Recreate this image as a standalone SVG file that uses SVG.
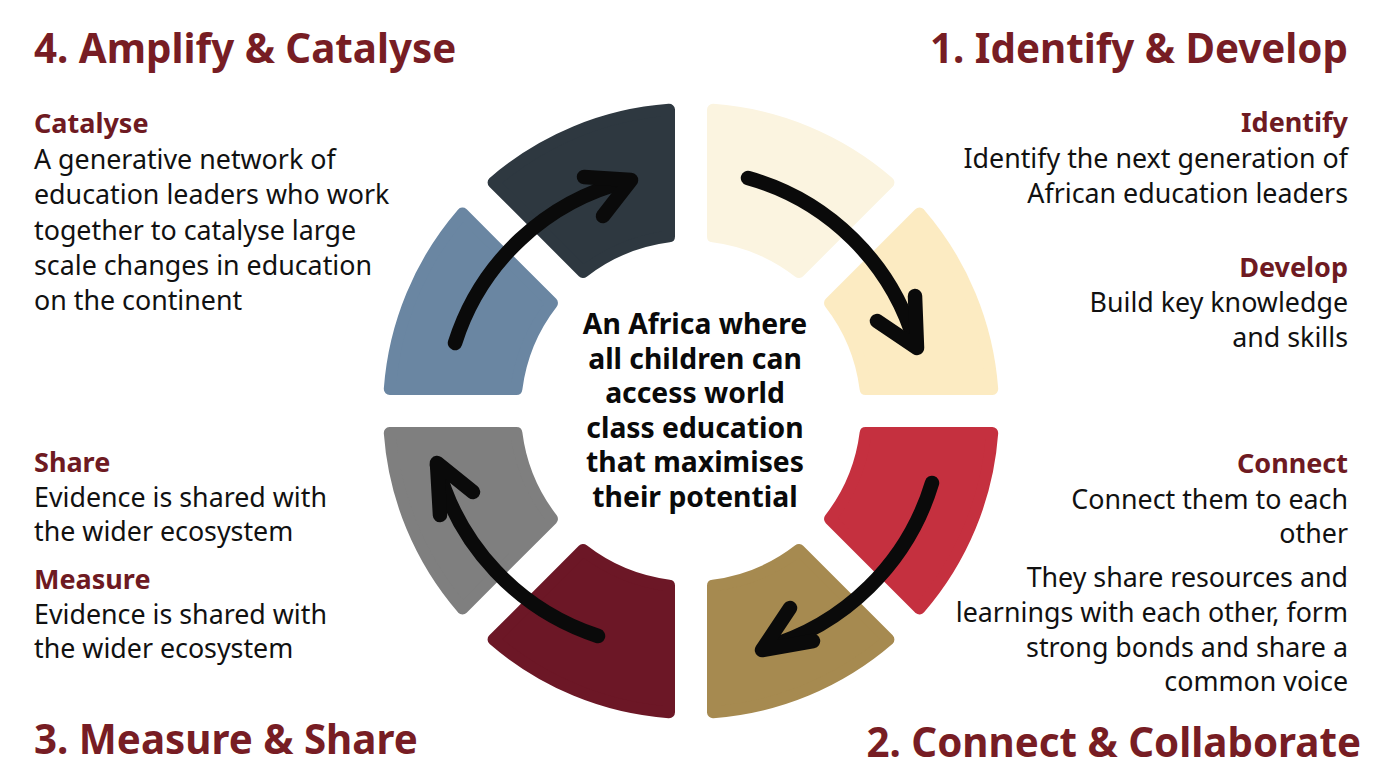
<svg xmlns="http://www.w3.org/2000/svg" width="1376" height="768" viewBox="0 0 1376 768">
<style>
.seg{stroke-width:12;stroke-linejoin:round}
.s1{fill:#FBF4E0;stroke:#FBF4E0}
.s2{fill:#FCEBC2;stroke:#FCEBC2}
.s3{fill:#C5303F;stroke:#C5303F}
.s4{fill:#A68A50;stroke:#A68A50}
.s5{fill:#6C1726;stroke:#6C1726}
.s6{fill:#7F7F7F;stroke:#7F7F7F}
.s7{fill:#6A86A2;stroke:#6A86A2}
.s8{fill:#2E3840;stroke:#2E3840}
.arr{fill:none;stroke:#0a0a0a;stroke-width:14.5;stroke-linecap:round;stroke-linejoin:round}
text{font-family:"Noto Sans","Open Sans","Liberation Sans",sans-serif}
.title{font-size:40.3px;font-weight:700;fill:#771D24}
.sub{font-size:27px;font-weight:700;fill:#6E1A22}
.body{font-size:26.8px;fill:#111111}
.center{font-size:28.3px;font-weight:700;fill:#0a0a0a;text-anchor:middle}
.r{text-anchor:end}
</style>
<rect width="1376" height="768" fill="#ffffff"/>
<g id="ring">
<g id="seg-cream"><path class="seg s1" d="M 713 109.8 A 302 302 0 0 1 888.42 182.46 L 798.92 271.97 A 176 176 0 0 0 713 236.38 Z"/></g>
<g id="seg-yellow"><path class="seg s2" d="M 919.54 213.58 A 302 302 0 0 1 992.2 389 L 865.62 389 A 176 176 0 0 0 830.03 303.08 Z"/></g>
<g id="seg-red"><path class="seg s3" d="M 992.2 433 A 302 302 0 0 1 919.54 608.42 L 830.03 518.92 A 176 176 0 0 0 865.62 433 Z"/></g>
<g id="seg-gold"><path class="seg s4" d="M 888.42 639.54 A 302 302 0 0 1 713 712.2 L 713 585.62 A 176 176 0 0 0 798.92 550.03 Z"/></g>
<g id="seg-darkred"><path class="seg s5" d="M 669 712.2 A 302 302 0 0 1 493.58 639.54 L 583.08 550.03 A 176 176 0 0 0 669 585.62 Z"/></g>
<g id="seg-gray"><path class="seg s6" d="M 462.46 608.42 A 302 302 0 0 1 389.8 433 L 516.38 433 A 176 176 0 0 0 551.97 518.92 Z"/></g>
<g id="seg-blue"><path class="seg s7" d="M 389.8 389 A 302 302 0 0 1 462.46 213.58 L 551.97 303.08 A 176 176 0 0 0 516.38 389 Z"/></g>
<g id="seg-dark"><path class="seg s8" d="M 493.58 182.46 A 302 302 0 0 1 669 109.8 L 669 236.38 A 176 176 0 0 0 583.08 271.97 Z"/></g>
</g>
<g id="connectors">
<path class="arr" d="M 455 343 A 242 242 0 0 1 628 181"/>
<path class="arr" d="M 584 177 L 631 180 L 603 216"/>
<path class="arr" d="M 748 178 A 242 242 0 0 1 915 343"/>
<path class="arr" d="M 877 321 L 917 348 L 915 296"/>
<path class="arr" d="M 932 483 A 245 245 0 0 1 764 648"/>
<path class="arr" d="M 790 608 L 762 650 L 813 641"/>
<path class="arr" d="M 598 636 A 245 245 0 0 1 437 465"/>
<path class="arr" d="M 473 492 L 437 463 L 440 515"/>
</g>
<g id="center">
<text class="center" x="695" y="334"><tspan x="695" y="334">An Africa where</tspan><tspan x="695" y="368.6">all children can</tspan><tspan x="695" y="403.2">access world</tspan><tspan x="695" y="437.8">class education</tspan><tspan x="695" y="472.4">that maximises</tspan><tspan x="695" y="507">their potential</tspan></text>
</g>
<g id="stage4">
<text class="title" x="34" y="63">4. Amplify &amp; Catalyse</text>
<text class="sub" x="34" y="133">Catalyse</text>
<text class="body" x="34" y="169">A generative network of</text>
<text class="body" x="34" y="204">education leaders who work</text>
<text class="body" x="34" y="240">together to catalyse large</text>
<text class="body" x="34" y="275">scale changes in education</text>
<text class="body" x="34" y="310">on the continent</text>
</g>
<g id="stage1">
<text class="title r" x="1348" y="63">1. Identify &amp; Develop</text>
<text class="sub r" x="1348" y="132">Identify</text>
<text class="body r" x="1348" y="168">Identify the next generation of</text>
<text class="body r" x="1348" y="203">African education leaders</text>
<text class="sub r" x="1348" y="277">Develop</text>
<text class="body r" x="1348" y="312">Build key knowledge</text>
<text class="body r" x="1348" y="347">and skills</text>
</g>
<g id="stage3">
<text class="sub" x="34" y="472">Share</text>
<text class="body" x="34" y="507">Evidence is shared with</text>
<text class="body" x="34" y="541">the wider ecosystem</text>
<text class="sub" x="34" y="589">Measure</text>
<text class="body" x="34" y="624">Evidence is shared with</text>
<text class="body" x="34" y="658">the wider ecosystem</text>
<text class="title" x="34" y="754">3. Measure &amp; Share</text>
</g>
<g id="stage2">
<text class="sub r" x="1348" y="473">Connect</text>
<text class="body r" x="1348" y="509">Connect them to each</text>
<text class="body r" x="1348" y="543">other</text>
<text class="body r" x="1348" y="587">They share resources and</text>
<text class="body r" x="1348" y="622">learnings with each other, form</text>
<text class="body r" x="1348" y="657">strong bonds and share a</text>
<text class="body r" x="1348" y="691">common voice</text>
<text class="title r" x="1361" y="757">2. Connect &amp; Collaborate</text>
</g>
</svg>
